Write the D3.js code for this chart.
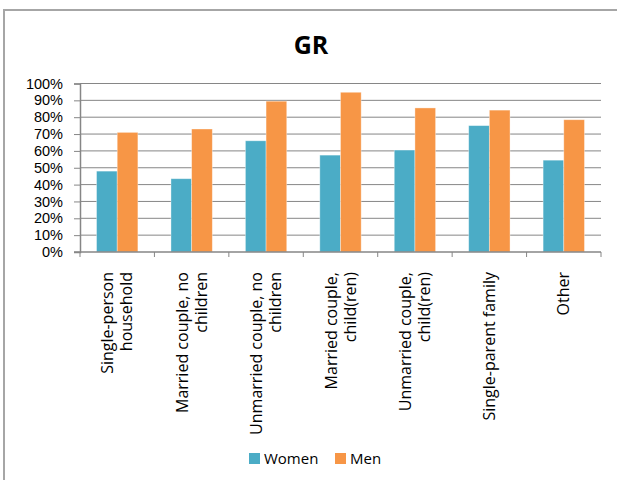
<!DOCTYPE html>
<html>
<head>
<meta charset="utf-8">
<script src="https://cdn.jsdelivr.net/npm/d3@7/dist/d3.min.js"></script>
<style>
  html, body { margin: 0; padding: 0; background: #fff; }
  svg { display: block; }
  text { font-family: "Open Sans", "DejaVu Sans", sans-serif; fill: #000; }
</style>
</head>
<body>
<svg id="chart" width="617" height="481"></svg>
<script>
// Household types on the x axis (each split into wrapped label lines)
const categories = [
  ["Single-person", "household"],
  ["Married couple, no", "children"],
  ["Unmarried couple, no", "children"],
  ["Married couple,", "child(ren)"],
  ["Unmarried couple,", "child(ren)"],
  ["Single-parent family"],
  ["Other"]
];
const seriesNames = ["Women", "Men"];
const women = [0.48, 0.435, 0.66, 0.575, 0.605, 0.75, 0.545];
const men   = [0.71, 0.73, 0.895, 0.948, 0.855, 0.842, 0.785];
const yTicks = [0, 0.1, 0.2, 0.3, 0.4, 0.5, 0.6, 0.7, 0.8, 0.9, 1.0];
const colors = ["#4BACC6", "#F79646"];

const svg = d3.select("#chart");

// outer chart frame
svg.append("path")
  .attr("d", "M4,480 L4,10 L617,10")
  .attr("fill", "none")
  .attr("stroke", "#a6a6a6")
  .attr("stroke-width", 2);

const plot = { left: 80, right: 601, top: 83.5, bottom: 252 };

const x0 = d3.scaleBand()
  .domain(d3.range(categories.length))
  .range([plot.left, plot.right])
  .paddingInner(0)
  .paddingOuter(0);

const x1 = d3.scaleBand()
  .domain(seriesNames)
  .range([0, x0.bandwidth()])
  .paddingInner(0)
  .paddingOuter(0.8);

const y = d3.scaleLinear().domain([0, 1]).range([plot.bottom, plot.top]);

// horizontal gridlines
svg.append("g")
  .selectAll("line")
  .data(yTicks.filter(d => d > 0))
  .join("line")
  .attr("x1", plot.left).attr("x2", plot.right)
  .attr("y1", d => y(d)).attr("y2", d => y(d))
  .attr("stroke", "#868686")
  .attr("stroke-width", 1);

// bars
const data = categories.map((c, i) => ({ i, values: [women[i], men[i]] }));
const groups = svg.append("g")
  .selectAll("g")
  .data(data)
  .join("g")
  .attr("transform", d => `translate(${x0(d.i)},0)`);

groups.selectAll("rect")
  .data(d => d.values.map((v, k) => ({ key: seriesNames[k], v, k })))
  .join("rect")
  .attr("x", d => x1(d.key))
  .attr("width", x1.bandwidth())
  .attr("y", d => y(d.v))
  .attr("height", d => y(0) - y(d.v))
  .attr("fill", d => colors[d.k])
  .attr("stroke", "rgba(255,255,255,0.45)")
  .attr("stroke-width", 0.8);

// y axis
const yAxis = d3.axisLeft(y)
  .tickValues(yTicks)
  .tickFormat(d3.format(".0%"))
  .tickSize(6)
  .tickPadding(11);

const gy = svg.append("g")
  .attr("transform", `translate(${plot.left},0)`)
  .call(yAxis);
gy.select(".domain").attr("stroke", "#868686").attr("stroke-width", 1.5);
gy.selectAll(".tick line").attr("stroke", "#868686");
gy.selectAll(".tick text")
  .style("font-family", "'Liberation Sans', Arial, sans-serif")
  .style("font-size", "14.5px")
  .attr("fill", "#000");

// x axis: baseline with tick marks between categories
const xTickPos = d3.range(categories.length + 1).map(i =>
  i < categories.length ? x0(i) : x0(categories.length - 1) + x0.bandwidth());
const gx = svg.append("g");
gx.append("line")
  .attr("x1", plot.left - 6).attr("x2", plot.right)
  .attr("y1", y(0)).attr("y2", y(0))
  .attr("stroke", "#868686").attr("stroke-width", 1.5);
gx.selectAll("line.tick")
  .data(xTickPos)
  .join("line")
  .attr("class", "tick")
  .attr("x1", d => d).attr("x2", d => d)
  .attr("y1", y(0)).attr("y2", y(0) + 5)
  .attr("stroke", "#868686");

// rotated category labels
const lineH = 19;
const labels = svg.append("g")
  .selectAll("text")
  .data(categories)
  .join("text")
  .attr("transform", (d, i) => `translate(${x0(i) + x0.bandwidth() / 2},272) rotate(-90)`)
  .attr("text-anchor", "end")
  .style("font-size", "16px");
labels.each(function (lines) {
  const t = d3.select(this);
  const n = lines.length;
  lines.forEach((ln, j) => {
    t.append("tspan")
      .attr("x", 0)
      .attr("y", (j - (n - 1) / 2) * lineH + 5.5)
      .text(ln);
  });
});

// title
svg.append("text")
  .attr("x", 311).attr("y", 54)
  .attr("text-anchor", "middle")
  .style("font-size", "25px")
  .style("font-weight", "bold")
  .text("GR");

// legend
const legend = svg.append("g").attr("transform", "translate(249,453)");
const legendItems = [{ name: "Women", x: 0 }, { name: "Men", x: 86 }];
legendItems.forEach((it, k) => {
  legend.append("rect")
    .attr("x", it.x).attr("y", 0)
    .attr("width", 11).attr("height", 11)
    .attr("fill", colors[k]);
  legend.append("text")
    .attr("x", it.x + 15).attr("y", 11)
    .style("font-size", "15px")
    .text(it.name);
});
</script>
</body>
</html>
